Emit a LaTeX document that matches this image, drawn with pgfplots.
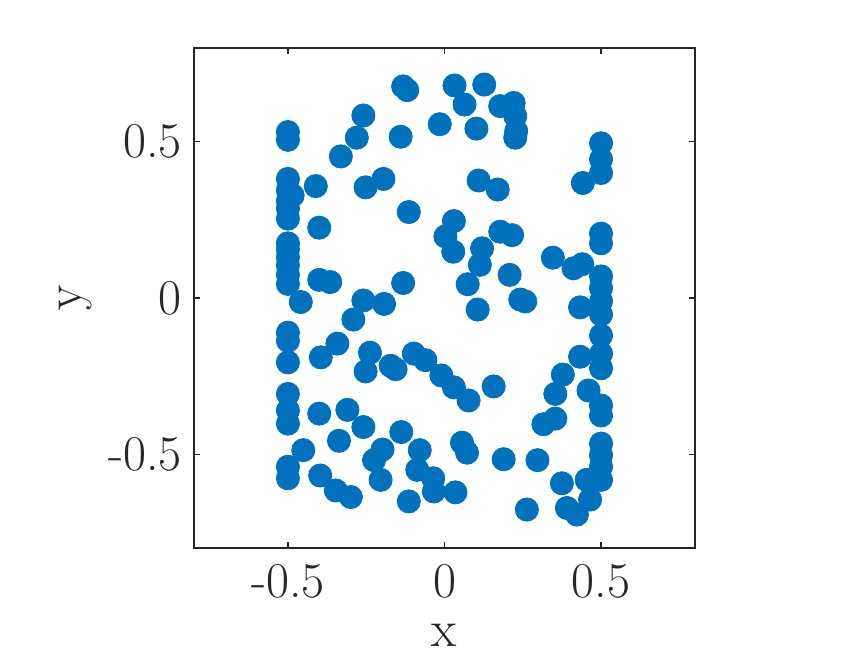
\documentclass[border=0pt]{standalone}
\usepackage{pgfplots}
\pgfplotsset{compat=1.18}
\definecolor{mblue}{RGB}{0,114,189}
\definecolor{mgray}{RGB}{38,38,38}
\begin{document}
\begin{tikzpicture}
\path[use as bounding box] (-97pt,-54pt) rectangle (332.5pt,274pt);
\begin{axis}[
  scale only axis, width=250.5pt, height=250pt,
  at={(0,0)}, anchor=south west,
  xmin=-0.8, xmax=0.8, ymin=-0.8, ymax=0.8,
  axis line style={mgray, line width=0.6pt},
  tick style={mgray, line width=0.6pt},
  major tick length=3pt,
  tick align=inside,
  xtick={-0.5,0,0.5}, ytick={-0.5,0,0.5},
  xticklabels={-0.5,0,0.5}, yticklabels={-0.5,0,0.5},
  ticklabel style={font=\fontsize{25}{29}\selectfont, text=mgray},
  xticklabel style={yshift=-4.5pt},
  yticklabel style={xshift=-2.5pt},
  xlabel={x}, ylabel={y},
  label style={font=\fontsize{26}{30}\selectfont, text=mgray},
  xlabel style={yshift=-6.5pt},
  ylabel style={yshift=1.5pt},
]
\addplot[only marks, mark=*, mark size=5.8pt, mblue, mark options={fill=mblue, draw=mblue}] coordinates {
(-0.5,0.531) (-0.5,0.506)
(-0.5,0.381) (-0.5,0.345) (-0.5,0.31) (-0.5,0.286) (-0.5,0.254)
(-0.485,0.328)
(-0.5,0.175) (-0.5,0.155) (-0.5,0.13) (-0.5,0.105) (-0.5,0.075) (-0.5,0.045)
(-0.5,-0.111) (-0.5,-0.137) (-0.5,-0.206)
(-0.5,-0.307) (-0.5,-0.360) (-0.5,-0.402)
(-0.5,-0.540) (-0.5,-0.577)
(-0.132,0.677) (-0.119,0.665) (-0.259,0.584) (-0.280,0.513) (-0.331,0.453)
(-0.140,0.516) (-0.015,0.556) (-0.411,0.358) (-0.252,0.354) (-0.195,0.381)
(-0.114,0.275) (-0.400,0.225)
(0.032,0.680) (0.127,0.683) (0.064,0.619) (0.178,0.614) (0.221,0.624)
(0.226,0.582) (0.229,0.534) (0.226,0.513) (0.102,0.542) (0.109,0.376)
(0.170,0.347) (0.5,0.495) (0.5,0.444) (0.5,0.400) (0.442,0.368)
(0.030,0.246) (0.003,0.197) (0.028,0.148) (0.178,0.212) (0.216,0.201)
(0.120,0.159) (0.113,0.106) (0.074,0.044) (0.208,0.074) (0.106,-0.037)
(0.258,-0.011) (0.242,-0.005) (0.346,0.129) (0.412,0.095) (0.440,0.108)
(0.5,0.206) (0.5,0.175) (0.5,0.069) (0.5,0.032) (0.5,-0.01) (0.5,-0.053)
(0.433,-0.030) (0.5,-0.12) (0.433,-0.188) (0.5,-0.178) (0.5,-0.225) (0.378,-0.245)
(-0.459,-0.013) (-0.400,0.058) (-0.365,0.051) (-0.132,0.048) (-0.259,-0.008)
(-0.193,-0.019) (-0.291,-0.069) (-0.342,-0.146) (-0.395,-0.190) (-0.238,-0.175)
(-0.252,-0.235) (-0.172,-0.217) (-0.156,-0.228) (-0.098,-0.178) (-0.061,-0.199)
(-0.010,-0.248)
(-0.400,-0.370) (-0.310,-0.358) (-0.259,-0.413) (-0.337,-0.457) (-0.138,-0.429)
(-0.451,-0.487) (-0.397,-0.568) (-0.347,-0.616) (-0.299,-0.637) (-0.198,-0.485)
(-0.225,-0.519) (-0.204,-0.582) (-0.114,-0.651) (-0.079,-0.487) (-0.087,-0.550)
(-0.036,-0.577) (-0.034,-0.619)
(0.030,-0.286) (0.077,-0.328) (0.157,-0.283) (0.056,-0.463) (0.072,-0.495)
(0.189,-0.516) (0.297,-0.519) (0.035,-0.622) (0.263,-0.677) (0.354,-0.307)
(0.316,-0.404) (0.354,-0.386) (0.460,-0.296)
(0.5,-0.344) (0.5,-0.376) (0.5,-0.466) (0.5,-0.503) (0.5,-0.540) (0.5,-0.582)
(0.454,-0.582) (0.375,-0.593) (0.465,-0.645) (0.391,-0.672) (0.423,-0.693)
};
\end{axis}
\end{tikzpicture}
\end{document}
